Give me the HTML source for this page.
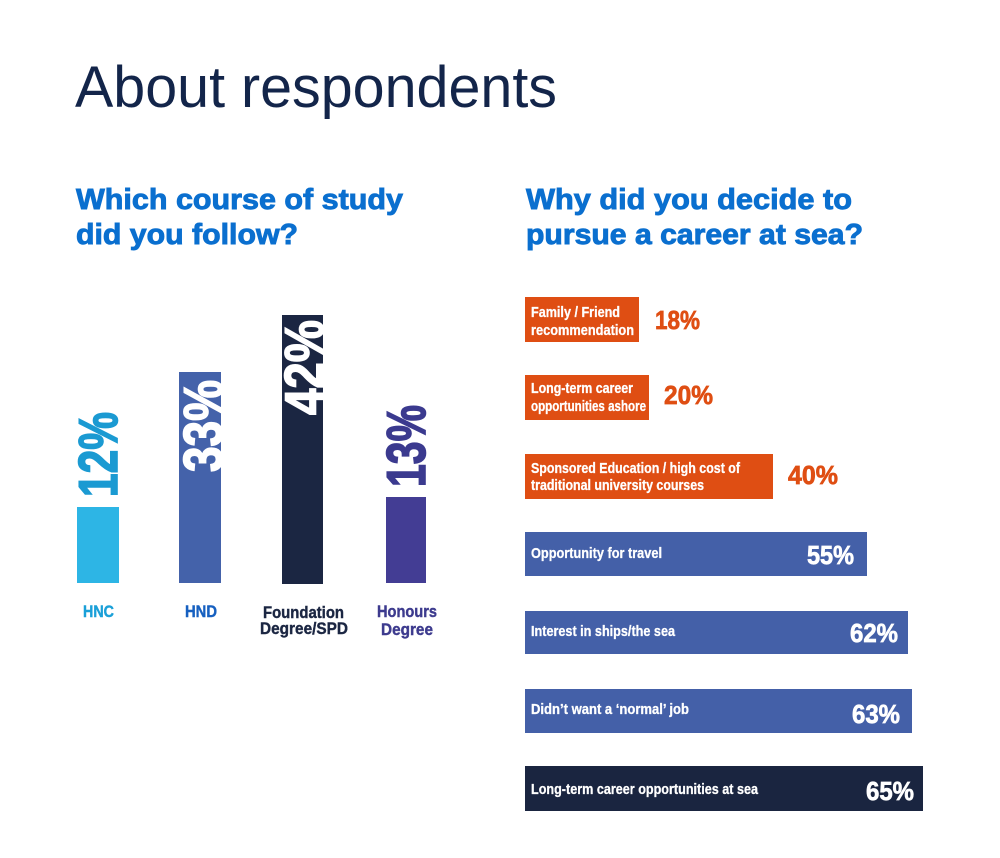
<!DOCTYPE html>
<html><head><meta charset="utf-8"><style>
html,body{margin:0;padding:0;background:#fff;}
svg{display:block;}
text{font-family:"Liberation Sans",Arial,sans-serif;}
</style></head><body>
<svg width="1000" height="858" viewBox="0 0 1000 858" xmlns="http://www.w3.org/2000/svg">
<rect width="1000" height="858" fill="#ffffff"/>
<text x="75" y="107" font-size="58" fill="#13254a" textLength="482" lengthAdjust="spacingAndGlyphs">About respondents</text>

<g font-weight="bold" font-size="29" fill="#0a6fcf" stroke="#0a6fcf" stroke-width="0.9">
<text x="76" y="209" textLength="327" lengthAdjust="spacingAndGlyphs">Which course of study</text>
<text x="76" y="244" textLength="222" lengthAdjust="spacingAndGlyphs">did you follow?</text>
<text x="526" y="209" textLength="326" lengthAdjust="spacingAndGlyphs">Why did you decide to</text>
<text x="526" y="244" textLength="337" lengthAdjust="spacingAndGlyphs">pursue a career at sea?</text>
</g>

<!-- Left chart bars -->
<rect x="77" y="507" width="42" height="76" fill="#2db5e5"/>
<rect x="179" y="372" width="42" height="211" fill="#4462aa"/>
<rect x="282" y="315" width="41" height="269" fill="#1b2642"/>
<rect x="386" y="497" width="40" height="86" fill="#433d94"/>

<g font-weight="bold" font-size="55" stroke-width="1.6">
<text transform="translate(117,497) rotate(-90)" fill="#1b9ad2" stroke="#1b9ad2" textLength="85" lengthAdjust="spacingAndGlyphs">12%</text>
<text transform="translate(222,472) rotate(-90)" fill="#ffffff" stroke="#ffffff" textLength="92" lengthAdjust="spacingAndGlyphs">33%</text>
<text transform="translate(323,415) rotate(-90)" fill="#ffffff" stroke="#ffffff" textLength="95" lengthAdjust="spacingAndGlyphs">42%</text>
<text transform="translate(425,487) rotate(-90)" fill="#3b3a8f" stroke="#3b3a8f" textLength="82" lengthAdjust="spacingAndGlyphs">13%</text>
</g>

<g font-weight="bold" font-size="16.5" stroke-width="0.4">
<text x="83" y="617" fill="#1ba0d8" stroke="#1ba0d8" textLength="31" lengthAdjust="spacingAndGlyphs">HNC</text>
<text x="185" y="617" fill="#1660c0" stroke="#1660c0" textLength="32" lengthAdjust="spacingAndGlyphs">HND</text>
<text x="263" y="618" fill="#1b2642" stroke="#1b2642" textLength="81" lengthAdjust="spacingAndGlyphs">Foundation</text>
<text x="260" y="634" fill="#1b2642" stroke="#1b2642" textLength="88" lengthAdjust="spacingAndGlyphs">Degree/SPD</text>
<text x="377" y="617" fill="#3d3b8e" stroke="#3d3b8e" textLength="60" lengthAdjust="spacingAndGlyphs">Honours</text>
<text x="381" y="635" fill="#3d3b8e" stroke="#3d3b8e" textLength="52" lengthAdjust="spacingAndGlyphs">Degree</text>
</g>

<!-- Right chart bars -->
<rect x="525" y="297" width="114" height="45" fill="#df4e13"/>
<rect x="525" y="375" width="124" height="45" fill="#df4e13"/>
<rect x="525" y="454" width="248" height="45" fill="#df4e13"/>
<rect x="525" y="532" width="342" height="44" fill="#4460a8"/>
<rect x="525" y="611" width="383" height="43" fill="#4460a8"/>
<rect x="525" y="689" width="387" height="44" fill="#4460a8"/>
<rect x="525" y="766" width="398" height="45" fill="#1a2540"/>

<g font-weight="bold" font-size="15" fill="#ffffff" stroke="#ffffff" stroke-width="0.3">
<text x="531" y="317" textLength="89" lengthAdjust="spacingAndGlyphs">Family / Friend</text>
<text x="531" y="335" textLength="103" lengthAdjust="spacingAndGlyphs">recommendation</text>
<text x="531" y="393" textLength="102" lengthAdjust="spacingAndGlyphs">Long-term career</text>
<text x="531" y="411" textLength="115" lengthAdjust="spacingAndGlyphs">opportunities ashore</text>
<text x="531" y="473" textLength="209" lengthAdjust="spacingAndGlyphs">Sponsored Education / high cost of</text>
<text x="531" y="490" textLength="173" lengthAdjust="spacingAndGlyphs">traditional university courses</text>
<text x="531" y="558" textLength="131" lengthAdjust="spacingAndGlyphs">Opportunity for travel</text>
<text x="531" y="636" textLength="144" lengthAdjust="spacingAndGlyphs">Interest in ships/the sea</text>
<text x="531" y="714" textLength="158" lengthAdjust="spacingAndGlyphs">Didn’t want a ‘normal’ job</text>
<text x="531" y="794" textLength="227" lengthAdjust="spacingAndGlyphs">Long-term career opportunities at sea</text>
</g>

<g font-weight="bold" font-size="26" stroke-width="0.7">
<text x="655" y="329" fill="#df4e13" stroke="#df4e13" textLength="45" lengthAdjust="spacingAndGlyphs">18%</text>
<text x="664" y="404" fill="#df4e13" stroke="#df4e13" textLength="49" lengthAdjust="spacingAndGlyphs">20%</text>
<text x="788" y="484" fill="#df4e13" stroke="#df4e13" textLength="50" lengthAdjust="spacingAndGlyphs">40%</text>
<text x="807" y="564" fill="#ffffff" stroke="#ffffff" textLength="47" lengthAdjust="spacingAndGlyphs">55%</text>
<text x="850" y="642" fill="#ffffff" stroke="#ffffff" textLength="48" lengthAdjust="spacingAndGlyphs">62%</text>
<text x="852" y="723" fill="#ffffff" stroke="#ffffff" textLength="48" lengthAdjust="spacingAndGlyphs">63%</text>
<text x="866" y="800" fill="#ffffff" stroke="#ffffff" textLength="48" lengthAdjust="spacingAndGlyphs">65%</text>
</g>
</svg>
</body></html>
